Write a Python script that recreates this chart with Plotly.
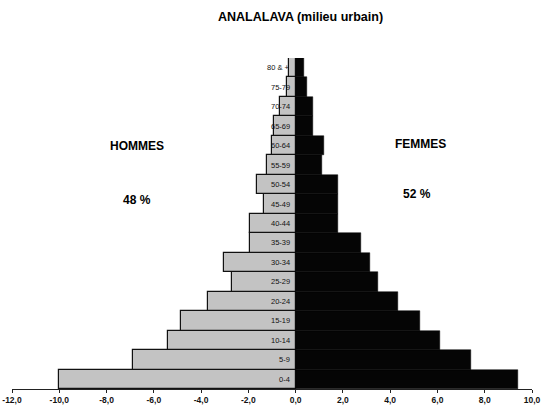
import plotly.graph_objects as go

ages = ["0-4", "5-9", "10-14", "15-19", "20-24", "25-29", "30-34", "35-39", "40-44",
        "45-49", "50-54", "55-59", "60-64", "65-69", "70-74", "75-79", "80 & +"]
hommes = [10.0, 6.9, 5.4, 4.85, 3.7, 2.7, 3.05, 1.95, 1.95,
          1.35, 1.65, 1.2, 1.0, 0.9, 0.65, 0.35, 0.3]
femmes = [9.4, 7.4, 6.1, 5.25, 4.35, 3.5, 3.15, 2.75, 1.8,
          1.8, 1.8, 1.1, 1.2, 0.75, 0.75, 0.5, 0.35]
x_ticks = [-12, -10, -8, -6, -4, -2, 0, 2, 4, 6, 8, 10]
x_ticktext = ["-12,0", "-10,0", "-8,0", "-6,0", "-4,0", "-2,0",
              "0,0", "2,0", "4,0", "6,0", "8,0", "10,0"]
title_text = "ANALALAVA (milieu urbain)"
pct_hommes = "48 %"
pct_femmes = "52 %"

FONT = "Liberation Sans Narrow, Arial Narrow, Arial, Liberation Sans, sans-serif"
L, R = 12, 11
PW = 543 - L - R

fig = go.Figure()
fig.add_trace(go.Bar(
    y=ages, x=[-v for v in hommes], orientation="h",
    marker=dict(color="#c3c3c3", line=dict(color="#111111", width=1.2)),
    showlegend=False, hoverinfo="skip"))
fig.add_trace(go.Bar(
    y=ages, x=femmes, orientation="h",
    marker=dict(color="#050505", line=dict(color="#050505", width=0.5)),
    showlegend=False, hoverinfo="skip"))

for a in ages:
    fig.add_annotation(x=-0.15, y=a, text=a, showarrow=False, xanchor="right",
                       yanchor="middle", font=dict(family=FONT, size=7.5, color="#111"))

fig.add_annotation(xref="paper", yref="paper", x=(300 - L) / PW, y=1 + (58 - 17) / 331,
                   text=title_text, showarrow=False, xanchor="center", yanchor="middle",
                   font=dict(family=FONT, size=12.5, color="#000", weight="bold"))
fig.add_annotation(x=-6.7, y=12.0, text="HOMMES", showarrow=False,
                   font=dict(family=FONT, size=12, color="#000", weight="bold"))
fig.add_annotation(x=-6.7, y=9.2, text=pct_hommes, showarrow=False,
                   font=dict(family=FONT, size=12, color="#000", weight="bold"))
fig.add_annotation(x=5.3, y=12.1, text="FEMMES", showarrow=False,
                   font=dict(family=FONT, size=12, color="#000", weight="bold"))
fig.add_annotation(x=5.15, y=9.5, text=pct_femmes, showarrow=False,
                   font=dict(family=FONT, size=12, color="#000", weight="bold"))

fig.update_layout(
    width=543, height=407,
    margin=dict(l=L, r=R, t=58, b=18, autoexpand=False),
    paper_bgcolor="white", plot_bgcolor="white",
    barmode="overlay", bargap=0,
    xaxis=dict(range=[-12, 10], tickvals=x_ticks, ticktext=x_ticktext,
               showgrid=False, zeroline=False, showline=True, linecolor="#222",
               linewidth=1, ticks="outside", ticklen=3, tickcolor="#222",
               ticklabeloverflow="allow",
               tickfont=dict(family=FONT, size=8.5, color="#111", weight="bold"),
               automargin=False),
    yaxis=dict(range=[-0.5, 16.5], showticklabels=False, showgrid=False,
               zeroline=False, showline=False, ticks="", automargin=False),
)

fig.write_html("out.html")
